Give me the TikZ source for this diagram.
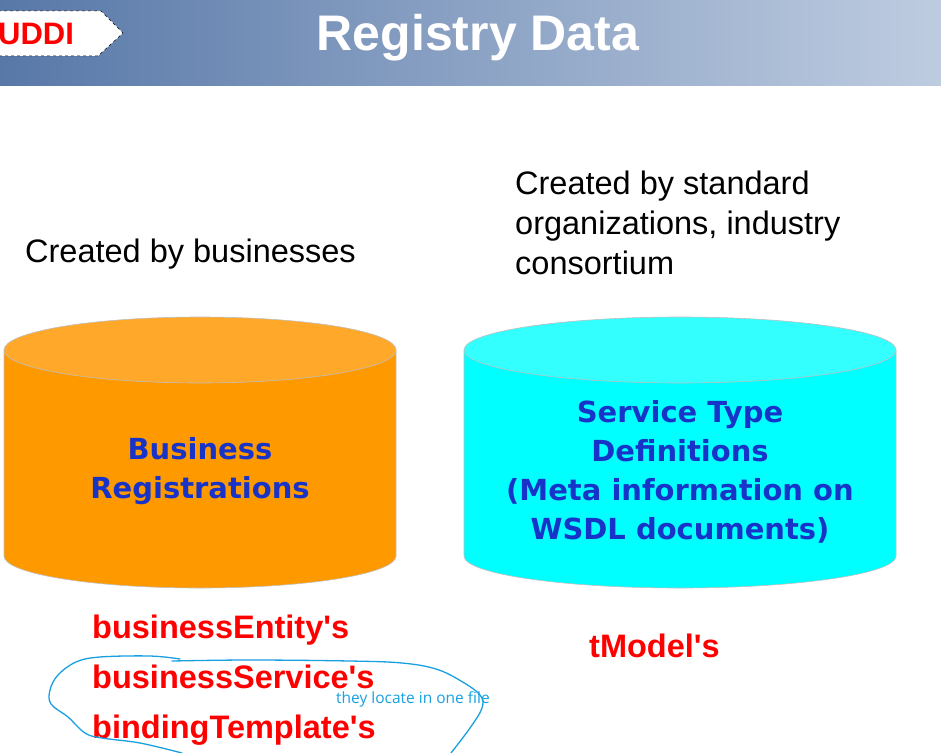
\documentclass[tikz,border=0pt]{standalone}
\usepackage{fontspec}
\setmainfont{Liberation Sans}[Ligatures=TeXOff]
\newfontfamily\verdanalike{DejaVu Sans}
\newfontfamily\notefont{Open Sans}
\usepackage{tikz}

\definecolor{bandleft}{RGB}{88,120,168}
\definecolor{bandright}{RGB}{190,204,224}
\definecolor{bodyorange}{RGB}{255,153,0}
\definecolor{toporange}{RGB}{255,168,41}
\definecolor{bodycyan}{RGB}{0,255,255}
\definecolor{topcyan}{RGB}{51,255,255}
\definecolor{dbblue}{RGB}{24,52,200}
\definecolor{notecyan}{RGB}{24,160,224}

\begin{document}
\begin{tikzpicture}[x=1pt,y=-1pt,
    plain/.style={anchor=base west,font=\fontsize{32.5}{40}\selectfont},
    dbtext/.style={align=center,text=dbblue,font=\verdanalike\bfseries\fontsize{29}{39}\selectfont},
    rectype/.style={anchor=base west,text=red,font=\bfseries\fontsize{32.5}{40}\selectfont},
    dbedge/.style={draw=black!25,line width=0.6pt}]
  \useasboundingbox (0,0) rectangle (941,752);

  % title band
  \shade[left color=bandleft,right color=bandright] (0,0) rectangle (941,85);
  \draw[dashed,fill=white,line width=0.5pt] (-2,11) -- (101,11) -- (123,33) -- (98,56) -- (-2,56);
  \node[anchor=base west,inner sep=0,text=red,font=\bfseries\fontsize{31}{36}\selectfont] (uddi) at (-2,45) {UDDI};
  \node[anchor=base,inner sep=0,text=white,font=\bfseries\fontsize{50}{56}\selectfont] (title) at (478,51) {Registry Data};

  % who creates what
  \node[plain,inner sep=0] (bizlabel) at (25,262) {Created by businesses};
  \node[plain,inner sep=0,align=left,anchor=north west] (stdlabel) at (515,171) {Created by standard\\organizations, industry\\consortium};

  % the two stores
  \draw[dbedge,fill=bodyorange] (4,350) -- (4,556) arc[start angle=180,end angle=360,x radius=196pt,y radius=32pt] -- (396,350) -- cycle;
  \draw[dbedge,fill=toporange] (200,350) ellipse[x radius=196pt,y radius=33pt];
  \draw[dbedge,fill=bodycyan] (464,350) -- (464,556) arc[start angle=180,end angle=360,x radius=216pt,y radius=32pt] -- (896,350) -- cycle;
  \draw[dbedge,fill=topcyan] (680,350) ellipse[x radius=216pt,y radius=33pt];

  \node[dbtext] (bizreg) at (200,471) {Business\\Registrations};
  \node[dbtext] (stdef) at (680,472) {Service Type\\Definitions\\(Meta information on\\WSDL documents)};

  % record types
  \node[rectype,inner sep=0] (entity) at (92,638) {businessEntity's};
  \node[rectype,inner sep=0] (service) at (92,688) {businessService's};
  \node[rectype,inner sep=0] (binding) at (92,738) {bindingTemplate's};
  \node[rectype,inner sep=0] (tmodel) at (589,657) {tModel's};

  % pen note
  \draw[notecyan,line width=1.3pt,line cap=round] plot[smooth,tension=0.6] coordinates {(180,659) (150,656) (100,657) (76,662) (58,675) (50,690) (51,704) (68,717) (85,733) (102,738) (140,743) (182,753)};
  \draw[notecyan,line width=1.3pt,line cap=round] plot[smooth,tension=0.6] coordinates {(172,661) (250,660) (350,661) (402,663) (436,669) (461,681) (480,695) (482,708) (470,728) (451,753)};
  \node[anchor=base west,inner sep=0,text=notecyan,font=\notefont\fontsize{15.5}{17}\selectfont] (note) at (336,703) {they locate in one file};
\end{tikzpicture}
\end{document}
